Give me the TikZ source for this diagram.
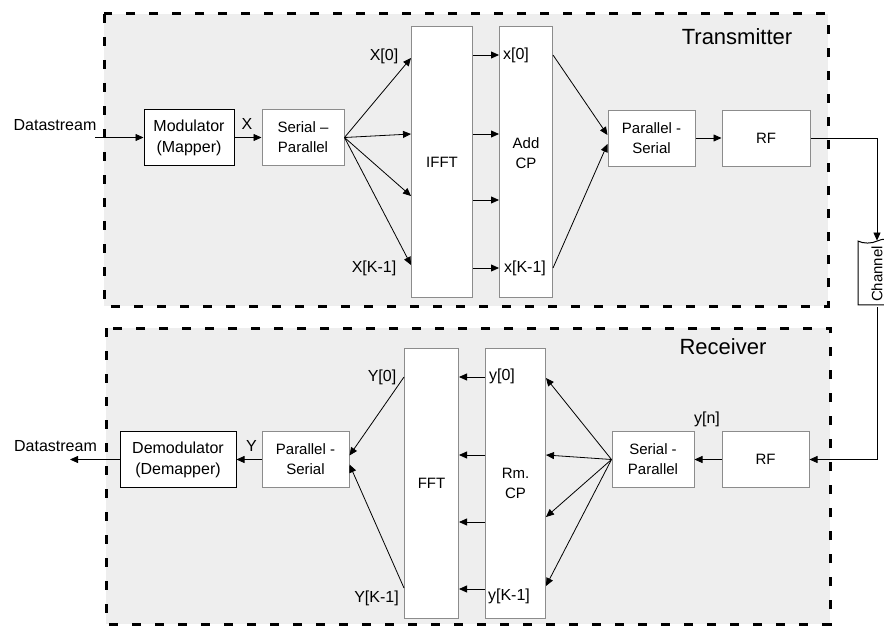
\documentclass[tikz,border=0pt]{standalone}
\usepackage{fontspec}
\setsansfont{Liberation Sans}
\usepackage{tikz}
\usetikzlibrary{positioning,arrows.meta,shapes.symbols}
\definecolor{boxgray}{HTML}{8C8C8C}
\definecolor{areagray}{HTML}{EEEEEE}

\begin{document}
\begin{tikzpicture}[x=1pt,y=-1pt,
  area/.style={fill=areagray,draw=black,line width=3pt,dash pattern=on 9pt off 14pt},
  blk/.style={draw=black,fill=white,line width=1pt,align=center,inner sep=2pt,minimum height=56pt,
              font=\sffamily\fontsize{16}{21}\selectfont},
  gry/.style={draw=boxgray,fill=white,line width=1pt,align=center,inner sep=2pt,minimum height=56pt,
              font=\sffamily\fontsize{15}{20}\selectfont},
  tall/.style={gry,minimum height=271pt},
  chan/.style={tape,draw=black,fill=white,line width=1pt,tape bend top=in and out,tape bend bottom=none,
              tape bend height=4pt,minimum width=38pt,minimum height=62pt,inner sep=1pt,
              font=\sffamily\fontsize{15}{18}\selectfont},
  lbl/.style={font=\sffamily\fontsize{16}{19}\selectfont,inner sep=0pt},
  title/.style={font=\sffamily\fontsize{22}{26}\selectfont,inner sep=0pt},
  arr/.style={-{Triangle[length=8pt,width=7pt]},line width=0.8pt}]
\useasboundingbox (0,0) rectangle (884,626);

% transmitter
\draw[area] (104,14) rectangle (828,306);
\node[title] (tx) at (737,37) {Transmitter};
\node[blk,minimum width=90pt] (mod) at (189,137.5) {Modulator\\(Mapper)};
\node[gry,right=27pt of mod,minimum width=82pt] (sp) {Serial --\\Parallel};
\node[tall,anchor=north west,minimum width=61pt] (ifft) at (411,26) {IFFT};
\node[tall,right=26pt of ifft,minimum width=53pt] (addcp) {Add\\CP\\[-2pt]\mbox{}};
\node[gry,minimum width=87pt] (ps) at (651.5,138) {Parallel -\\Serial};
\node[gry,right=26pt of ps,minimum width=88pt] (rf) {RF};
\node[lbl] (dsin) at (55,125) {Datastream};
\node[lbl] (xlab) at (247,123.5) {X};
\node[lbl] (xfirst) at (384,56) {X[0]};
\node[lbl] (xlast) at (374,268) {X[K-1]};
\node[lbl] (tfirst) at (516,55) {x[0]};
\node[lbl] (tlast) at (525,268) {x[K-1]};
\coordinate (din) at (95,137.5);

% channel
\node[chan] (chan) at (877,274) {\rotatebox{90}{Channel}};

% receiver
\draw[area] (106,328) rectangle (830,624);
\node[title] (rx) at (723,347) {Receiver};
\node[blk,minimum width=116pt] (demod) at (178,459.5) {Demodulator\\(Demapper)};
\node[gry,right=25pt of demod,minimum width=87pt] (ps2) {Parallel -\\Serial};
\node[tall,anchor=north west,minimum width=54pt,minimum height=270pt] (fft) at (404,348) {FFT};
\node[tall,right=26pt of fft,minimum width=60pt,minimum height=270pt] (rmcp) {Rm.\\CP};
\node[gry,minimum width=82pt] (sp2) at (653,459.5) {Serial -\\Parallel};
\node[gry,right=27pt of sp2,minimum width=87pt] (rf2) {RF};
\node[lbl] (dsout) at (55.5,446) {Datastream};
\node[lbl] (ylab) at (251.5,446) {Y};
\node[lbl] (yfirst) at (382,377) {Y[0]};
\node[lbl] (ylast) at (376.5,598) {Y[K-1]};
\node[lbl] (rfirst) at (502,376) {y[0]};
\node[lbl] (rlast) at (509,596) {y[K-1]};
\node[lbl] (yn) at (707,419) {y[n]};
\coordinate (dout) at (70,459.5);

% transmitter arrows
\draw[arr] (din) -- (mod.west); \draw[arr] (mod) -- (sp);
\draw[arr] (sp.east) -- ([yshift=-32pt]ifft.north west); \draw[arr] (sp.east) -- ([yshift=-108pt]ifft.north west);
\draw[arr] (sp.east) -- ([yshift=-170pt]ifft.north west); \draw[arr] (sp.east) -- ([yshift=-239pt]ifft.north west);
\draw[arr] ([yshift=-29pt]ifft.north east) -- ([yshift=-29pt]addcp.north west);
\draw[arr] ([yshift=-108pt]ifft.north east) -- ([yshift=-108pt]addcp.north west);
\draw[arr] ([yshift=-174pt]ifft.north east) -- ([yshift=-174pt]addcp.north west);
\draw[arr] ([yshift=-242pt]ifft.north east) -- ([yshift=-242pt]addcp.north west);
\draw[arr] ([yshift=-29pt]addcp.north east) -- ([yshift=3pt]ps.west);
\draw[arr] ([yshift=-242pt]addcp.north east) -- ([yshift=-6pt]ps.west);
\draw[arr] (ps) -- (rf);
\draw[arr] (rf.east) -| (chan.north);

% receiver arrows
\draw[arr] (chan.south) |- (rf2.east); \draw[arr] (rf2) -- (sp2);
\draw[arr] (sp2.west) -- ([yshift=-30pt]rmcp.north east); \draw[arr] (sp2.west) -- ([yshift=-107pt]rmcp.north east);
\draw[arr] (sp2.west) -- ([yshift=-169pt]rmcp.north east); \draw[arr] (sp2.west) -- ([yshift=-238pt]rmcp.north east);
\draw[arr] ([yshift=-29pt]rmcp.north west) -- ([yshift=-29pt]fft.north east);
\draw[arr] ([yshift=-107pt]rmcp.north west) -- ([yshift=-107pt]fft.north east);
\draw[arr] ([yshift=-174pt]rmcp.north west) -- ([yshift=-174pt]fft.north east);
\draw[arr] ([yshift=-241pt]rmcp.north west) -- ([yshift=-241pt]fft.north east);
\draw[arr] ([yshift=-29pt]fft.north west) -- ([yshift=4pt]ps2.east);
\draw[arr] ([yshift=-240pt]fft.north west) -- ([yshift=-5pt]ps2.east);
\draw[arr] (ps2) -- (demod); \draw[arr] (demod.west) -- (dout);
\end{tikzpicture}
\end{document}
